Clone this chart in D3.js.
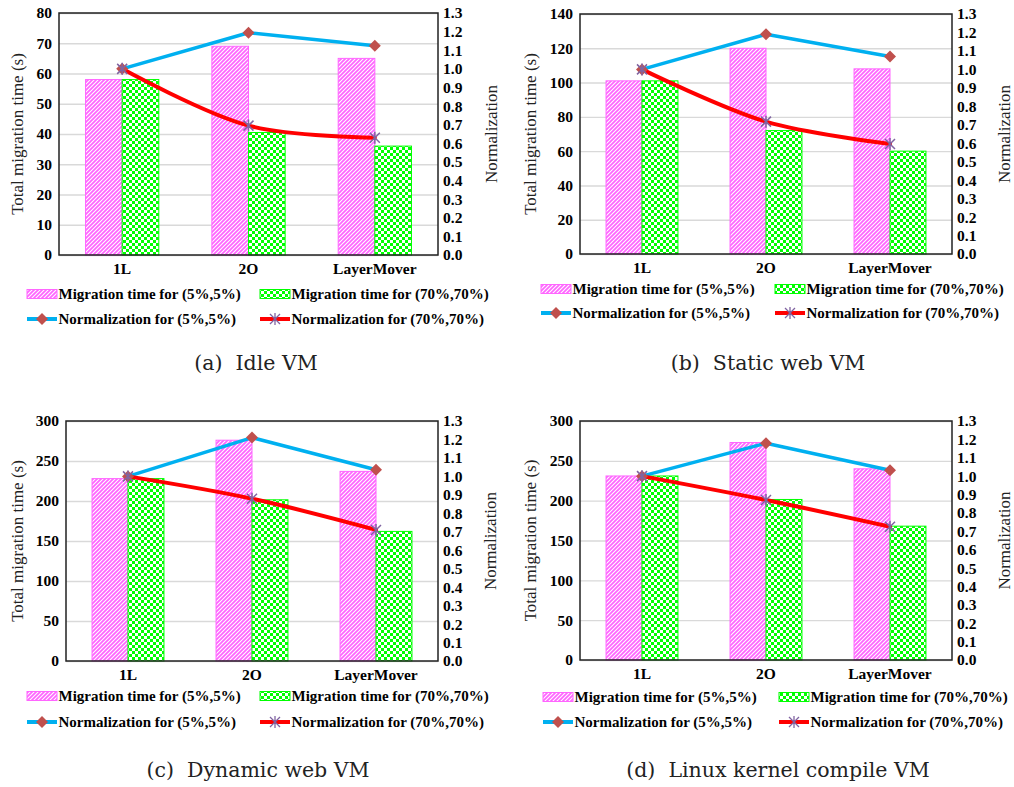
<!DOCTYPE html>
<html>
<head>
<meta charset="utf-8">
<script src="https://cdn.jsdelivr.net/npm/d3@7"></script>
<style>
  body { margin: 0; background: #fff; }
  svg { display: block; }
</style>
</head>
<body>
<svg id="fig" width="1014" height="787"></svg>
<script>
// ---- data ----
const categories = ["1L", "2O", "LayerMover"];

// Idle VM
const idleTimeLow = [58, 69, 65];
const idleTimeHigh = [58, 40.5, 36];
const idleNormLow = [1.0, 1.194, 1.124];
const idleNormHigh = [1.0, 0.695, 0.63];

// Static web VM
const staticTimeLow = [101, 120, 108];
const staticTimeHigh = [101, 72, 60];
const staticNormLow = [1.0, 1.19, 1.07];
const staticNormHigh = [1.0, 0.717, 0.596];

// Dynamic web VM
const dynamicTimeLow = [228, 276, 237];
const dynamicTimeHigh = [228, 201.5, 162];
const dynamicNormLow = [1.0, 1.21, 1.036];
const dynamicNormHigh = [1.0, 0.879, 0.71];

// Linux kernel compile VM
const kernelTimeLow = [231, 273, 240];
const kernelTimeHigh = [231, 201.5, 168];
const kernelNormLow = [1.0, 1.179, 1.032];
const kernelNormHigh = [1.0, 0.87, 0.725];

// tick labels
const ticksIdle = [0, 10, 20, 30, 40, 50, 60, 70, 80];
const ticksStatic = [0, 20, 40, 60, 80, 100, 120, 140];
const ticksLarge = [0, 50, 100, 150, 200, 250, 300];
const ticksNorm = [0.0, 0.1, 0.2, 0.3, 0.4, 0.5, 0.6, 0.7, 0.8, 0.9, 1.0, 1.1, 1.2, 1.3];

const leftTitle = "Total migration time (s)";
const rightTitle = "Normalization";
const legendLabels = [
  "Migration time for (5%,5%)",
  "Migration time for (70%,70%)",
  "Normalization for (5%,5%)",
  "Normalization for (70%,70%)"
];
const captions = ["(a)  Idle VM", "(b)  Static web VM", "(c)  Dynamic web VM", "(d)  Linux kernel compile VM"];

// ---- layout of the four panels ----
const panels = [
  { low: idleTimeLow, high: idleTimeHigh, nLow: idleNormLow, nHigh: idleNormHigh, ticks: ticksIdle,
    box: { l: 59, r: 438, t: 13, b: 255 }, ltx: 17, rtx: 491,
    leg: { x1: 27, x2: 260, y1: 294, y2: 319 }, cap: { x: 256, y: 370 }, caption: captions[0] },
  { low: staticTimeLow, high: staticTimeHigh, nLow: staticNormLow, nHigh: staticNormHigh, ticks: ticksStatic,
    box: { l: 580, r: 952, t: 14, b: 254 }, ltx: 530, rtx: 1004,
    leg: { x1: 541, x2: 775, y1: 289, y2: 313 }, cap: { x: 768, y: 370 }, caption: captions[1] },
  { low: dynamicTimeLow, high: dynamicTimeHigh, nLow: dynamicNormLow, nHigh: dynamicNormHigh, ticks: ticksLarge,
    box: { l: 66, r: 438, t: 421, b: 661 }, ltx: 17, rtx: 490,
    leg: { x1: 27, x2: 260, y1: 696, y2: 722 }, cap: { x: 258, y: 777 }, caption: captions[2] },
  { low: kernelTimeLow, high: kernelTimeHigh, nLow: kernelNormLow, nHigh: kernelNormHigh, ticks: ticksLarge,
    box: { l: 580, r: 952, t: 421, b: 660 }, ltx: 530, rtx: 1004,
    leg: { x1: 543, x2: 779, y1: 697, y2: 722 }, cap: { x: 778, y: 777 }, caption: captions[3] }
];

const serif = "Liberation Serif";
const capFont = "DejaVu Serif";
const pink = "#ff66ff";
const green = "#00ff00";
const blue = "#00b0f0";
const red = "#ff0000";
const diamondFill = "#c0504d";
const starStroke = "#8064a2";

const svg = d3.select("#fig");
svg.append("rect").attr("width", 1014).attr("height", 787).attr("fill", "#fff");

// ---- fill patterns ----
const defs = svg.append("defs");
const hatch = defs.append("pattern").attr("id", "hatch")
  .attr("patternUnits", "userSpaceOnUse").attr("width", 4).attr("height", 4);
hatch.append("rect").attr("width", 4).attr("height", 4).attr("fill", "#fff");
hatch.append("path").attr("d", "M-1,1 L1,-1 M0,4 L4,0 M3,5 L5,3")
  .attr("stroke", pink).attr("stroke-width", 1.8);

const checker = defs.append("pattern").attr("id", "checker")
  .attr("patternUnits", "userSpaceOnUse").attr("width", 6).attr("height", 6);
checker.append("rect").attr("width", 6).attr("height", 6).attr("fill", green);
checker.append("rect").attr("width", 3).attr("height", 3).attr("fill", "#fff").attr("shape-rendering", "crispEdges");
checker.append("rect").attr("x", 3).attr("y", 3).attr("width", 3).attr("height", 3).attr("fill", "#fff").attr("shape-rendering", "crispEdges");

const diamondPath = "M0,-6L6,0L0,6L-6,0Z";
const starPath = "M-5,-5L5,5M-5,5L5,-5M0,-6L0,6";

function styleTicks(s) {
  s.select(".domain").remove();
  s.selectAll("text")
    .style("font-family", serif).style("font-weight", "bold")
    .style("font-size", "15.5px").attr("fill", "#000");
}

function drawPanel(p) {
  const g = svg.append("g");
  const { l, r, t, b } = p.box;

  const y = d3.scaleLinear().domain([0, d3.max(p.ticks)]).range([b, t]);
  const yN = d3.scaleLinear().domain([0, 1.3]).range([b, t]);
  const x = d3.scaleBand().domain(categories).range([l, r]).paddingInner(0.42).paddingOuter(0.21);
  const xs = d3.scaleBand().domain(["low", "high"]).range([0, x.bandwidth()]);

  // horizontal grid
  g.append("g").attr("transform", `translate(${l},0)`)
    .call(d3.axisLeft(y).tickValues(p.ticks).tickSize(-(r - l)).tickFormat(""))
    .call(s => s.select(".domain").remove())
    .call(s => s.selectAll(".tick line").attr("stroke", "#d9d9d9").attr("stroke-width", 1.4));

  // bars
  const rows = categories.map((c, i) => ({ c, low: p.low[i], high: p.high[i] }));
  g.append("g").selectAll("rect").data(rows).join("rect")
    .attr("x", d => x(d.c) + xs("low")).attr("y", d => y(d.low))
    .attr("width", xs.bandwidth()).attr("height", d => b - y(d.low))
    .attr("fill", "url(#hatch)").attr("stroke", pink).attr("stroke-width", 1);
  g.append("g").selectAll("rect").data(rows).join("rect")
    .attr("x", d => x(d.c) + xs("high")).attr("y", d => y(d.high))
    .attr("width", xs.bandwidth()).attr("height", d => b - y(d.high))
    .attr("fill", "url(#checker)").attr("stroke", green).attr("stroke-width", 1);

  // plot frame
  g.append("rect").attr("x", l).attr("y", t).attr("width", r - l).attr("height", b - t)
    .attr("fill", "none").attr("stroke", "#222").attr("stroke-width", 1.5);

  // left axis labels
  g.append("g").attr("transform", `translate(${l},0)`)
    .call(d3.axisLeft(y).tickValues(p.ticks).tickSize(0).tickPadding(7).tickFormat(d3.format("d")))
    .call(styleTicks);

  // right axis labels
  g.append("g").attr("transform", `translate(${r},0)`)
    .call(d3.axisRight(yN).tickValues(ticksNorm).tickSize(0).tickPadding(5).tickFormat(d3.format(".1f")))
    .call(styleTicks);

  // category axis
  g.append("g").attr("transform", `translate(0,${b})`)
    .call(d3.axisBottom(x).tickSize(0).tickPadding(8))
    .call(styleTicks);

  // axis titles
  g.append("text")
    .attr("transform", `translate(${p.ltx},${(t + b) / 2}) rotate(-90)`)
    .attr("text-anchor", "middle").attr("dominant-baseline", "central")
    .style("font-family", serif).style("font-size", "17px").attr("fill", "#222").text(leftTitle);
  g.append("text")
    .attr("transform", `translate(${p.rtx},${(t + b) / 2}) rotate(-90)`)
    .attr("text-anchor", "middle").attr("dominant-baseline", "central")
    .style("font-family", serif).style("font-size", "17px").attr("fill", "#222").text(rightTitle);

  // normalization lines
  const cx = c => x(c) + x.bandwidth() / 2;
  const ptsLow = categories.map((c, i) => [cx(c), yN(p.nLow[i])]);
  const ptsHigh = categories.map((c, i) => [cx(c), yN(p.nHigh[i])]);

  g.append("path").attr("d", d3.line()(ptsLow))
    .attr("fill", "none").attr("stroke", blue).attr("stroke-width", 3.5).attr("stroke-linejoin", "round");
  g.append("path").attr("d", d3.line().curve(d3.curveCatmullRom.alpha(0.5))(ptsHigh))
    .attr("fill", "none").attr("stroke", red).attr("stroke-width", 4).attr("stroke-linecap", "round");

  g.append("g").selectAll("path").data(ptsLow).join("path")
    .attr("transform", d => `translate(${d[0]},${d[1]})`).attr("d", diamondPath).attr("fill", diamondFill);
  g.append("g").selectAll("path").data(ptsHigh).join("path")
    .attr("transform", d => `translate(${d[0]},${d[1]})`).attr("d", starPath)
    .attr("fill", "none").attr("stroke", starStroke).attr("stroke-width", 1.5);

  // legend
  const lg = g.append("g");
  const L = p.leg;
  const sw = 30;
  lg.append("rect").attr("x", L.x1).attr("y", L.y1 - 4.5).attr("width", sw).attr("height", 9)
    .attr("fill", "url(#hatch)").attr("stroke", pink).attr("stroke-width", 1);
  lg.append("rect").attr("x", L.x2).attr("y", L.y1 - 4.5).attr("width", sw).attr("height", 9)
    .attr("fill", "url(#checker)").attr("stroke", green).attr("stroke-width", 1);
  lg.append("line").attr("x1", L.x1).attr("x2", L.x1 + sw).attr("y1", L.y2).attr("y2", L.y2)
    .attr("stroke", blue).attr("stroke-width", 4);
  lg.append("path").attr("transform", `translate(${L.x1 + sw / 2},${L.y2})`).attr("d", diamondPath).attr("fill", diamondFill);
  lg.append("line").attr("x1", L.x2).attr("x2", L.x2 + sw).attr("y1", L.y2).attr("y2", L.y2)
    .attr("stroke", red).attr("stroke-width", 4);
  lg.append("path").attr("transform", `translate(${L.x2 + sw / 2},${L.y2})`).attr("d", starPath)
    .attr("fill", "none").attr("stroke", starStroke).attr("stroke-width", 1.3);

  const legendItems = [
    [L.x1, L.y1, legendLabels[0]], [L.x2, L.y1, legendLabels[1]],
    [L.x1, L.y2, legendLabels[2]], [L.x2, L.y2, legendLabels[3]]
  ];
  lg.selectAll("text.item").data(legendItems).join("text")
    .style("font-family", serif).style("font-weight", "bold").style("font-size", "15px").attr("fill", "#000")
    .attr("x", d => d[0] + sw + 1.5).attr("y", d => d[1]).attr("dy", "0.35em").text(d => d[2]);

  // caption
  svg.append("text").attr("x", p.cap.x).attr("y", p.cap.y).attr("text-anchor", "middle")
    .style("font-family", capFont).style("font-size", "20.5px").attr("fill", "#222")
    .style("white-space", "pre").text(p.caption);
}

panels.forEach(drawPanel);
</script>
</body>
</html>
